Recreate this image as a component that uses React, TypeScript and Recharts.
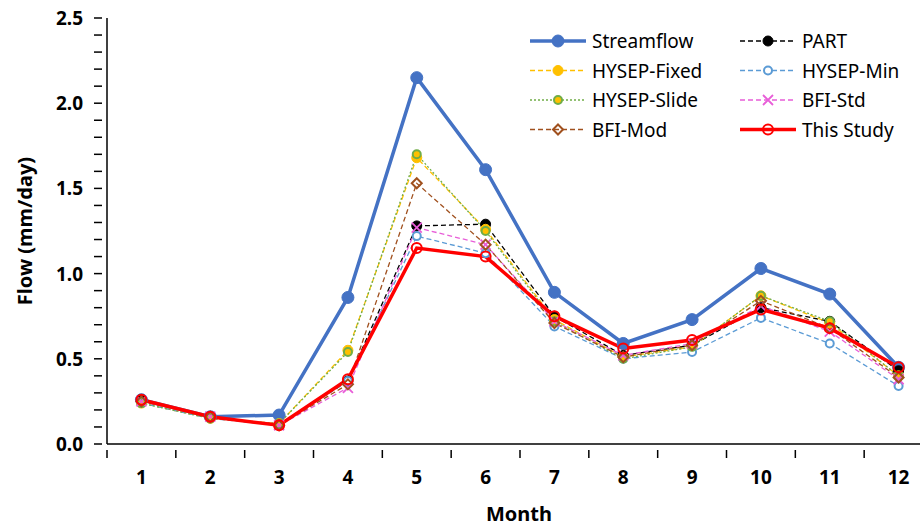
import React from 'react';
import { LineChart, Line, XAxis, YAxis } from 'recharts';

const months = [1, 2, 3, 4, 5, 6, 7, 8, 9, 10, 11, 12];
const streamflow = [0.26, 0.16, 0.17, 0.86, 2.15, 1.61, 0.89, 0.59, 0.73, 1.03, 0.88, 0.45];
const part = [0.26, 0.16, 0.11, 0.37, 1.28, 1.29, 0.75, 0.52, 0.58, 0.8, 0.72, 0.43];
const hysepFixed = [0.24, 0.15, 0.12, 0.55, 1.68, 1.26, 0.73, 0.51, 0.57, 0.87, 0.71, 0.4];
const hysepMin = [0.24, 0.15, 0.11, 0.37, 1.22, 1.12, 0.69, 0.5, 0.54, 0.74, 0.59, 0.34];
const hysepSlide = [0.24, 0.15, 0.12, 0.54, 1.7, 1.25, 0.72, 0.5, 0.57, 0.87, 0.72, 0.4];
const bfiStd = [0.25, 0.16, 0.11, 0.33, 1.27, 1.17, 0.72, 0.52, 0.59, 0.81, 0.66, 0.38];
const bfiMod = [0.25, 0.16, 0.11, 0.35, 1.53, 1.17, 0.71, 0.51, 0.58, 0.84, 0.68, 0.39];
const thisStudy = [0.26, 0.16, 0.11, 0.38, 1.15, 1.1, 0.75, 0.56, 0.61, 0.79, 0.68, 0.45];

const yTicks = Array.from({ length: 26 }, (_, i) => i / 10);
const xTicks = Array.from({ length: 25 }, (_, i) => 0.5 + i * 0.5);

const data = months.map((m, i) => ({
  month: m,
  streamflow: streamflow[i],
  part: part[i],
  hysepFixed: hysepFixed[i],
  hysepMin: hysepMin[i],
  hysepSlide: hysepSlide[i],
  bfiStd: bfiStd[i],
  bfiMod: bfiMod[i],
  thisStudy: thisStudy[i],
}));

const FONT = '"Noto Sans", sans-serif';

type Mk = 'dotFill' | 'dotOpen' | 'cross' | 'diamond';

const marker = (kind: Mk, color: string, r: number, fill = color) => (p: any) => {
  const { cx, cy, key } = p;
  if (cx == null || cy == null) return <g key={key} />;
  if (kind === 'dotFill') return <circle key={key} cx={cx} cy={cy} r={r} fill={fill} stroke={color} />;
  if (kind === 'dotOpen')
    return <circle key={key} cx={cx} cy={cy} r={r} fill={fill} stroke={color} strokeWidth={2} />;
  if (kind === 'cross')
    return (
      <path key={key} d={`M${cx - r},${cy - r}L${cx + r},${cy + r}M${cx - r},${cy + r}L${cx + r},${cy - r}`} stroke={color} strokeWidth={1.8} />
    );
  return (
    <path key={key} d={`M${cx},${cy - r}L${cx + r},${cy}L${cx},${cy + r}L${cx - r},${cy}Z`} fill="none" stroke={color} strokeWidth={2} />
  );
};

const series = [
  { key: 'streamflow', name: 'Streamflow', color: '#4472C4', width: 3.5, dash: undefined, mk: 'dotFill' as Mk, r: 6, fill: '#4472C4' },
  { key: 'part', name: 'PART', color: '#000000', width: 1.3, dash: '5 3', mk: 'dotFill' as Mk, r: 5, fill: '#000' },
  { key: 'hysepFixed', name: 'HYSEP-Fixed', color: '#FFC000', width: 1.3, dash: '5 3', mk: 'dotFill' as Mk, r: 5, fill: '#FFC000' },
  { key: 'hysepMin', name: 'HYSEP-Min', color: '#5B9BD5', width: 1.3, dash: '5 3', mk: 'dotOpen' as Mk, r: 4, fill: '#fff' },
  { key: 'hysepSlide', name: 'HYSEP-Slide', color: '#70AD47', width: 1.3, dash: '2 2', mk: 'dotOpen' as Mk, r: 4, fill: '#FFC000' },
  { key: 'bfiStd', name: 'BFI-Std', color: '#E85ED8', width: 1.3, dash: '5 3', mk: 'cross' as Mk, r: 5, fill: '#fff' },
  { key: 'bfiMod', name: 'BFI-Mod', color: '#A0501E', width: 1.3, dash: '5 3', mk: 'diamond' as Mk, r: 5, fill: '#fff' },
  { key: 'thisStudy', name: 'This Study', color: '#FF0000', width: 3.5, dash: undefined, mk: 'dotOpen' as Mk, r: 5, fill: 'none' },
];

const XTick = (p: any) => {
  const { x, y, payload } = p;
  const v = payload.value;
  if (Number.isInteger(v))
    return (
      <text x={x} y={y + 32} textAnchor="middle" fontFamily={FONT} fontWeight="bold" fontSize={19} fill="#000">
        {v}
      </text>
    );
  return <line x1={x} x2={x} y1={y - 2} y2={y + 6} stroke="#000" strokeWidth={1.5} />;
};

const YTick = (p: any) => {
  const { x, y, payload } = p;
  const v = payload.value;
  const major = Math.abs(v * 2 - Math.round(v * 2)) < 1e-6;
  return (
    <g>
      <line x1={x - 5} x2={x + 3} y1={y} y2={y} stroke="#000" strokeWidth={1.5} />
      {major && (
        <text x={x - 16} y={y + 7} textAnchor="end" fontFamily={FONT} fontWeight="bold" fontSize={19} fill="#000">
          {v.toFixed(1)}
        </text>
      )}
    </g>
  );
};

const legendPos = [
  [0, 0], [1, 0], [0, 1], [1, 1], [0, 2], [1, 2], [0, 3], [1, 3],
];

export default function App() {
  return (
    <div style={{ position: 'absolute', left: 0, top: 0, width: 920, height: 528, overflow: 'hidden', background: '#fff' }}>
      <LineChart width={933} height={528} data={data} margin={{ top: 18, right: 0, left: 97, bottom: 54 }}>
        <XAxis
          dataKey="month"
          type="number"
          domain={[0.5, 12.5]}
          ticks={xTicks}
          interval={0}
          tick={<XTick />}
          tickLine={false}
          axisLine={{ stroke: '#000', strokeWidth: 1.5 }}
        />
        <YAxis
          type="number"
          domain={[0, 2.5]}
          ticks={yTicks}
          interval={0}
          tick={<YTick />}
          tickLine={false}
          width={10}
          axisLine={{ stroke: '#000', strokeWidth: 1.5 }}
        />
        {series.map((s) => (
          <Line
            key={s.key}
            dataKey={s.key}
            stroke={s.color}
            strokeWidth={s.width}
            strokeDasharray={s.dash}
            dot={marker(s.mk, s.color, s.r, s.fill)}
            activeDot={false}
            isAnimationActive={false}
          />
        ))}
      </LineChart>
      <div style={{ position: 'absolute', left: 24, top: 231, transform: 'translate(-50%,-50%) rotate(-90deg)', fontFamily: FONT, fontWeight: 'bold', fontSize: 20, whiteSpace: 'nowrap' }}>
        Flow (mm/day)
      </div>
      <div style={{ position: 'absolute', left: 519, top: 500, transform: 'translateX(-50%)', fontFamily: FONT, fontWeight: 'bold', fontSize: 20 }}>
        Month
      </div>
      <svg style={{ position: 'absolute', left: 0, top: 0 }} width={920} height={528}>
        {series.map((s, i) => {
          const [col, row] = legendPos[i];
          const x0 = col === 0 ? 530 : 740;
          const y = 41 + row * 29.5;
          return (
            <g key={s.key}>
              <line x1={x0} x2={x0 + 56} y1={y} y2={y} stroke={s.color} strokeWidth={s.width} strokeDasharray={s.dash} />
              {marker(s.mk, s.color, s.r, s.fill)({ cx: x0 + 28, cy: y, key: 'm' })}
              <text x={x0 + 62} y={y + 7} fontFamily={FONT} fontSize={19} fill="#000">
                {s.name}
              </text>
            </g>
          );
        })}
      </svg>
    </div>
  );
}
